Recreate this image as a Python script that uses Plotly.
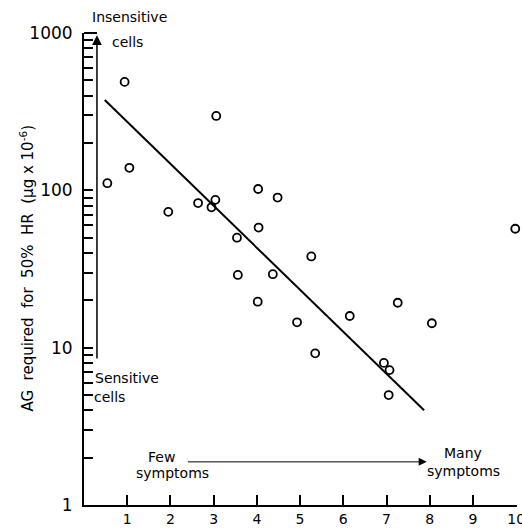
import plotly.graph_objects as go
import math

# ---- data ----
symptom_score = [0.54, 0.94, 1.05, 1.95, 2.64, 2.95, 3.04, 3.06, 3.54, 3.56,
                 4.03, 4.04, 4.02, 4.48, 4.37, 5.26, 4.93, 5.35, 6.15, 6.94,
                 7.07, 7.05, 7.26, 8.05, 9.98]
ag_required = [111, 489, 139, 73, 83, 78, 87, 297, 50, 29,
               102, 58, 19.6, 90, 29.3, 38, 14.5, 9.2, 15.9, 8.0,
               7.2, 5.0, 19.3, 14.3, 57]
fit_x = [0.48, 7.87]
fit_y = [375, 4.0]
x_ticks = [1, 2, 3, 4, 5, 6, 7, 8, 9, 10]
x_tick_labels = ["1", "2", "3", "4", "5", "6", "7", "8", "9", "10"]
y_decades = [1, 10, 100, 1000]
y_decade_labels = ["1", "10", "100", "1000"]

FONT = "DejaVu Sans"

# plot area geometry (pixels)
W, H = 522, 528
X_MAX = 10.02
L, R, T, B = 83.5, 517, 33, 505

def px_x(p):
    return (p - L) / (R - L)

def px_y(p):
    return (B - p) / (B - T)

# y ticks: every integer multiple within each decade, labels only at decades
y_tickvals, y_ticktext = [], []
for d in y_decades[:-1]:
    for m in range(1, 10):
        y_tickvals.append(d * m)
        y_ticktext.append(y_decade_labels[y_decades.index(d)] if m == 1 else "")
y_tickvals.append(y_decades[-1])
y_ticktext.append(y_decade_labels[-1])

fig = go.Figure()

fig.add_trace(go.Scatter(
    x=fit_x, y=fit_y, mode="lines",
    line=dict(color="black", width=2), showlegend=False, hoverinfo="skip"))

fig.add_trace(go.Scatter(
    x=symptom_score, y=ag_required, mode="markers", cliponaxis=False,
    marker=dict(symbol="circle-open", size=8, color="black",
                line=dict(width=1.8, color="black")),
    showlegend=False))

# vertical "sensitivity" arrow and top box edge
fig.add_shape(type="line", xref="x", yref="paper", x0=0, x1=0.3, y0=1, y1=1,
              line=dict(color="black", width=2))
fig.add_annotation(x=0.3, y=2.985, ax=0.3, ay=math.log10(8.35),
                   xref="x", yref="y", axref="x", ayref="y",
                   text="", showarrow=True, arrowhead=2, arrowsize=1.3,
                   arrowwidth=1.5, arrowcolor="black", standoff=0)
# horizontal "symptoms" arrow
fig.add_annotation(x=7.93, y=math.log10(1.88), ax=2.37, ay=math.log10(1.88),
                   xref="x", yref="y", axref="x", ayref="y",
                   text="", showarrow=True, arrowhead=2, arrowsize=1.6,
                   arrowwidth=1, arrowcolor="black", standoff=0)

def label(text, xp, yp, xanchor="center", size=14):
    fig.add_annotation(x=px_x(xp), y=px_y(yp), xref="paper", yref="paper",
                       text=text, showarrow=False, xanchor=xanchor,
                       yanchor="middle", font=dict(family=FONT, size=size, color="black"))

label("Insensitive", 129, 17)
label("cells", 127.5, 42)
label("Sensitive", 93, 378, xanchor="left")
label("cells", 92, 397, xanchor="left")
label("Few", 161, 457)
label("symptoms", 172, 473)
label("Many", 463, 453)
label("symptoms", 463, 471)

# y axis title
fig.add_annotation(x=px_x(14), y=px_y(268), xref="paper", yref="paper",
                   text="AG  required  for  50%  HR  (μg x 10<sup>-6</sup>)",
                   textangle=-90, showarrow=False,
                   font=dict(family=FONT, size=15, color="black"))

fig.update_layout(
    template="none",
    width=W, height=H,
    margin=dict(l=L, r=W - R, t=T, b=H - B, pad=0, autoexpand=False),
    paper_bgcolor="white", plot_bgcolor="white",
    font=dict(family=FONT, size=15, color="black"),
    xaxis=dict(range=[0, X_MAX], tickvals=x_ticks, ticktext=x_tick_labels,
               ticks="inside", ticklen=10, tickwidth=2, tickcolor="black",
               showline=True, linewidth=2, linecolor="black", automargin=False,
               showgrid=False, zeroline=False, ticklabelstandoff=0,
               ticklabeloverflow="allow", tickfont=dict(size=14)),
    yaxis=dict(type="log", range=[0, 3], tickvals=y_tickvals, ticktext=y_ticktext,
               ticks="inside", ticklen=9, tickwidth=1.5, tickcolor="black",
               showline=True, linewidth=2, linecolor="black", automargin=False,
               showgrid=False, zeroline=False, ticklabelstandoff=6,
               ticklabeloverflow="allow", tickfont=dict(size=17)),
)

fig.write_html("out.html", config={"displayModeBar": False},
               post_script="document.body.style.margin='0';document.body.style.overflow='hidden';")
